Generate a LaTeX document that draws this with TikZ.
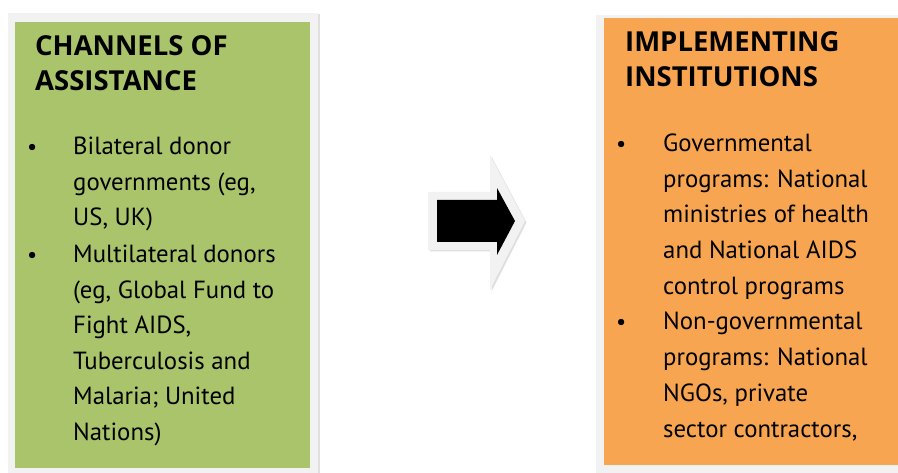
\documentclass[tikz,border=0pt]{standalone}
\usepackage{fontspec}
\setmainfont{PT Sans}
\newfontfamily\titlefont{Open Sans}
\usetikzlibrary{shadows}
\definecolor{boxgreen}{RGB}{169,196,106}
\definecolor{boxorange}{RGB}{248,165,82}
\definecolor{framegrey}{RGB}{242,242,242}
\definecolor{shadegrey}{RGB}{215,215,215}
\tikzset{
  frame/.style={fill=framegrey, draw=none, drop shadow={shadow xshift=1.5pt, shadow yshift=-1.5pt, fill=shadegrey, opacity=0.8}},
  title/.style={anchor=base west, inner sep=0pt, font=\titlefont\fontsize{27.5}{27.5}\selectfont\bfseries},
  body/.style={anchor=base west, inner sep=0pt, font=\fontsize{24.8}{24.8}\selectfont, align=left},
  bul/.style={anchor=base west, inner sep=0pt, font=\fontsize{22.5}{22.5}\selectfont},
}
\begin{document}
\begin{tikzpicture}[x=1pt,y=-1pt]
\useasboundingbox (0,0) rectangle (898,473);
% left box
\fill[frame] (8,13) rectangle (318,480);
\fill[boxgreen] (15,22) rectangle (310,468);
\node[title] (lt1) at (35,56) {CHANNELS OF};
\node[title] (lt2) at (35,91) {ASSISTANCE};
\node[bul] (lb1) at (27,155) {•};
\node[bul] (lb2) at (27,263) {•};
\foreach \y/\t [count=\i] in {155/Bilateral donor,190.5/{governments (eg,},226/{US, UK)},263/Multilateral donors,298.5/{(eg, Global Fund to},334/{Fight AIDS,},369.5/Tuberculosis and,405/{Malaria; United},440.5/{Nations)}}
  \node[body] (l\i) at (73,\y) {\t};
% right box
\fill[frame] (596,15) rectangle (905,480);
\fill[boxorange] (604,18) rectangle (905,465);
\node[title] (rt1) at (625,52) {IMPLEMENTING};
\node[title] (rt2) at (625,87) {INSTITUTIONS};
\node[bul] (rb1) at (616,152) {•};
\node[bul] (rb2) at (616,330) {•};
\foreach \y/\t [count=\i] in {152/Governmental,187.5/{programs: National},223/{ministries of health},259/{and National AIDS},294.5/{control programs},330/Non-governmental,366/{programs: National},401.5/{NGOs, private},437/{sector contractors,}}
  \node[body] (r\i) at (663,\y) {\t};
% arrow
\fill[frame] (428,192) -- (490,192) -- (490,155) -- (525,221) -- (490,290) -- (490,250) -- (428,250) -- cycle;
\fill[black] (437,200) -- (497,200) -- (497,188) -- (515,221) -- (497,255) -- (497,242) -- (437,242) -- cycle;
\end{tikzpicture}
\end{document}
